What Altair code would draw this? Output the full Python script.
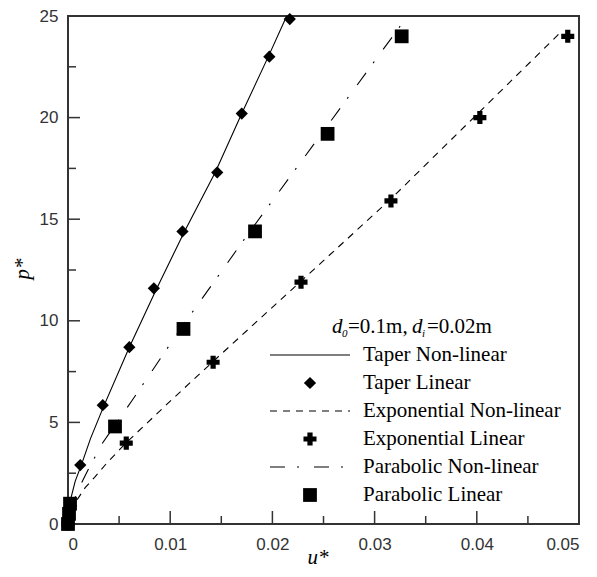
import altair as alt
import pandas as pd

# ---------------- data ----------------
taper_nl_u = [0.0, 0.0001, 0.0003, 0.0007, 0.0013, 0.0022, 0.0035, 0.0060, 0.0086, 0.0114, 0.0144, 0.0170, 0.0196, 0.0214]
taper_nl_p = [0.0, 0.6, 1.3, 2.1, 2.9, 4.2, 5.8, 8.7, 11.5, 14.4, 17.3, 20.2, 23.0, 25.0]
taper_lin_u = [0.0, 0.0001, 0.0003, 0.0012, 0.0034, 0.0060, 0.0084, 0.0112, 0.0146, 0.0170, 0.0197, 0.0217]
taper_lin_p = [0.0, 0.4, 0.9, 2.9, 5.85, 8.7, 11.6, 14.4, 17.3, 20.2, 23.0, 24.85]

exp_nl_u = [0.0, 0.0003, 0.0009, 0.0017, 0.0026, 0.0038, 0.0057, 0.0099, 0.0142, 0.0228, 0.0316, 0.0401, 0.0480]
exp_nl_p = [0.0, 0.5, 1.2, 1.8, 2.3, 3.0, 4.0, 6.0, 8.0, 11.95, 16.0, 20.2, 24.1]
exp_lin_u = [0.0, 0.0057, 0.0142, 0.0228, 0.0316, 0.0403, 0.0489]
exp_lin_p = [0.0, 3.98, 7.96, 11.9, 15.9, 20.0, 24.0]

par_nl_u = [0.0, 0.0002, 0.0006, 0.0013, 0.0021, 0.0034, 0.0063, 0.0110, 0.0178, 0.0248, 0.0325]
par_nl_p = [0.0, 0.6, 1.2, 2.0, 2.8, 4.0, 6.1, 9.6, 14.4, 19.2, 24.5]
par_lin_u = [0.0, 0.0001, 0.0002, 0.0046, 0.0113, 0.0183, 0.0254, 0.03265]
par_lin_p = [0.0, 0.5, 1.0, 4.8, 9.6, 14.4, 19.2, 24.0]

x_major = [0.01, 0.02, 0.03, 0.04]
x_minor = [0.005, 0.015, 0.025, 0.035, 0.045]
y_major = [5, 10, 15, 20]
y_minor = [2.5, 7.5, 12.5, 17.5, 22.5]
x_labels = [0, 0.01, 0.02, 0.03, 0.04, 0.05]
y_labels = [0, 5, 10, 15, 20, 25]

legend_labels = ["Taper Non-linear", "Taper Linear", "Exponential Non-linear",
                 "Exponential Linear", "Parabolic Non-linear", "Parabolic Linear"]

# ---------------- layout ----------------
W, H = 511, 508
SERIF = "Liberation Serif"
SANS = "Liberation Sans"

xs = alt.Scale(domain=[0, 0.05], nice=False, zero=False)
ys = alt.Scale(domain=[0, 25], nice=False, zero=False)
xaxis = alt.Axis(values=x_labels, format="~g", title=None, ticks=False, domain=False, grid=False,
                 labelFont=SANS, labelFontSize=17, labelColor="#333", labelPadding=12)
yaxis = alt.Axis(values=y_labels, format="~g", title=None, ticks=False, domain=False, grid=False,
                 labelFont=SANS, labelFontSize=17, labelColor="#333", labelPadding=10)

X = lambda f: alt.X(f, scale=xs, axis=xaxis)
Y = lambda f: alt.Y(f, scale=ys, axis=yaxis)


def line(u, p, dash):
    df = pd.DataFrame({"u": u, "p": p, "o": list(range(len(u)))})
    kw = dict(color="black", strokeWidth=1.1)
    if dash:
        kw["strokeDash"] = dash
    return alt.Chart(df).mark_line(**kw).encode(x=X("u:Q"), y=Y("p:Q"), order="o:Q")


def points(u, p, shape, size):
    df = pd.DataFrame({"u": u, "p": p})
    return alt.Chart(df).mark_point(shape=shape, filled=True, size=size, color="black", opacity=1).encode(
        x=X("u:Q"), y=Y("p:Q"))


DASH_EXP = [7, 6]
DASH_PAR = [15, 12, 2, 15]

layers = [
    line(taper_nl_u, taper_nl_p, None),
    line(exp_nl_u, exp_nl_p, DASH_EXP),
    line(par_nl_u, par_nl_p, DASH_PAR),
    points(taper_lin_u, taper_lin_p, "diamond", 150),
    points(exp_lin_u, exp_lin_p, "cross", 170),
    points(par_lin_u, par_lin_p, "square", 190),
]

# inward ticks
for vals, ln in [(x_major, 13), (x_minor, 8)]:
    layers.append(alt.Chart(pd.DataFrame({"t": vals})).mark_rule(color="#333", strokeWidth=1.5).encode(
        x=X("t:Q"), y=alt.value(H), y2=alt.value(H - ln)))
for vals, ln in [(y_major, 12), (y_minor, 8)]:
    layers.append(alt.Chart(pd.DataFrame({"t": vals})).mark_rule(color="#333", strokeWidth=1.5).encode(
        y=Y("t:Q"), x=alt.value(0), x2=alt.value(ln)))


def text(s, x, y, size=21, style="normal", align="left", baseline="middle", angle=0, font=SERIF):
    kw = dict(font=font, fontSize=size, fontStyle=style, align=align, baseline=baseline, color="black")
    if angle:
        kw["angle"] = angle
    return alt.Chart(pd.DataFrame({"s": [s]})).mark_text(**kw).encode(
        text="s:N", x=alt.value(x), y=alt.value(y))


# legend
ly0, dy = 339, 28
lx1, lx2, mx, tx = 202, 282, 242, 295
for i, lab in enumerate(legend_labels):
    yy = ly0 + i * dy
    one = pd.DataFrame({"a": [0]})
    if i in (0, 2, 4):
        kw = dict(color="black", strokeWidth=1.1)
        if i == 2:
            kw["strokeDash"] = DASH_EXP
        if i == 4:
            kw["strokeDash"] = DASH_PAR
        layers.append(alt.Chart(one).mark_rule(**kw).encode(
            x=alt.value(lx1), x2=alt.value(lx2), y=alt.value(yy)))
    else:
        shape, size = {1: ("diamond", 150), 3: ("cross", 170), 5: ("square", 190)}[i]
        layers.append(alt.Chart(one).mark_point(shape=shape, filled=True, size=size, color="black", opacity=1).encode(
            x=alt.value(mx), y=alt.value(yy)))
    layers.append(text(lab, tx, yy))

# legend title: d0=0.1m, di=0.02m
tb = 317
layers += [
    text("d", 264, tb, style="italic", baseline="alphabetic"),
    text("0", 274, tb + 4, size=11, style="italic", baseline="alphabetic"),
    text("=0.1m,", 280, tb, baseline="alphabetic"),
    text("d", 344, tb, style="italic", baseline="alphabetic"),
    text("i", 354, tb + 4, size=11, style="italic", baseline="alphabetic"),
    text("=0.02m", 359, tb, baseline="alphabetic"),
]

# axis titles
layers += [
    text("u*", 250, 548, size=21, style="italic", align="center", baseline="alphabetic"),
    text("p*", -45, 253, size=21, style="italic", align="center", angle=270),
]

chart = alt.layer(*layers).properties(
    width=W, height=H,
    autosize=alt.AutoSizeParams(type="none"),
    padding={"left": 60, "top": 8, "right": 8, "bottom": 45},
).configure_view(stroke="#333", strokeWidth=2)

chart.save("out.html", embed_options={"renderer": "svg", "actions": False})
